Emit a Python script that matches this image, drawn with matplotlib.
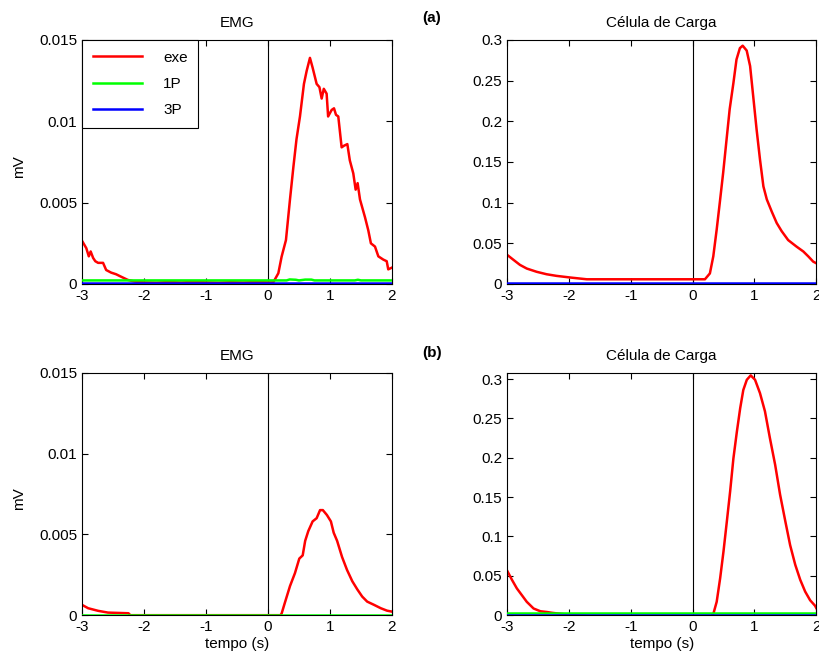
import matplotlib
matplotlib.use("Agg")
import matplotlib.pyplot as plt
from matplotlib.ticker import FuncFormatter

plt.rcParams['font.family'] = ['Liberation Sans', 'DejaVu Sans']
plt.rcParams['font.size'] = 11

# (a) EMG - exe
emg_a_exe_t = [-3.0, -2.93, -2.89, -2.86, -2.82, -2.785, -2.74, -2.66, -2.61, -2.53, -2.45,
               -2.37, -2.26, -2.15, -2.0, -1.8, -1.6, -1.4, -1.2, -1.0, -0.8, -0.6, -0.4,
               -0.2, 0.0, 0.085, 0.167, 0.22, 0.29, 0.355, 0.41, 0.46, 0.516, 0.58, 0.624,
               0.677, 0.72, 0.785, 0.83, 0.866, 0.90, 0.946, 0.97, 1.027, 1.065, 1.097,
               1.134, 1.188, 1.226, 1.28, 1.32, 1.376, 1.414, 1.446, 1.484, 1.565, 1.618,
               1.66, 1.726, 1.78, 1.86, 1.915, 1.94, 1.995]
emg_a_exe = [0.00266, 0.0022, 0.0017, 0.0020, 0.0016, 0.0014, 0.0013, 0.0013, 0.00086,
             0.0007, 0.0006, 0.00045, 0.00025, 0.00015, 0.0001, 0.00008, 0.00012, 0.00009,
             0.00013, 0.00010, 0.00008, 0.00011, 0.00009, 0.00012, 0.00010, 0.0001,
             0.00066, 0.00168, 0.0027, 0.0052, 0.0072, 0.0089, 0.0103, 0.0123, 0.0131,
             0.0139, 0.0133, 0.0123, 0.0121, 0.0114, 0.0120, 0.0117, 0.0103, 0.0107,
             0.0108, 0.0104, 0.0103, 0.0084, 0.0085, 0.0086, 0.0076, 0.0068, 0.0058,
             0.0062, 0.0052, 0.0041, 0.0033, 0.0025, 0.0023, 0.0017, 0.0015, 0.0014,
             0.0009, 0.0010]
emg_a_1p_t = [-3.0, 0.0, 0.3, 0.35, 0.45, 0.5, 0.6, 0.7, 0.75, 1.4, 1.45, 1.5, 2.0]
emg_a_1p = [0.00022, 0.00022, 0.00022, 0.00028, 0.00026, 0.00022, 0.00027, 0.00027,
            0.00022, 0.00022, 0.00026, 0.00022, 0.00022]
emg_a_3p_t = [-3.0, 2.0]
emg_a_3p = [0.00007, 0.00007]

# (a) Célula de Carga
cel_a_exe_t = [-3.0, -2.9, -2.79, -2.68, -2.52, -2.36, -2.2, -1.98, -1.71, 0.0, 0.2, 0.28,
               0.335, 0.39, 0.44, 0.495, 0.55, 0.60, 0.66, 0.71, 0.765, 0.81, 0.875, 0.93,
               0.98, 1.035, 1.09, 1.145, 1.20, 1.28, 1.36, 1.44, 1.545, 1.68, 1.79, 1.87,
               1.95, 2.0]
cel_a_exe = [0.036, 0.030, 0.0235, 0.019, 0.015, 0.012, 0.010, 0.008, 0.0058, 0.0058,
             0.0058, 0.013, 0.034, 0.067, 0.10, 0.137, 0.178, 0.215, 0.247, 0.276, 0.290,
             0.293, 0.287, 0.268, 0.231, 0.190, 0.153, 0.120, 0.104, 0.089, 0.075, 0.065,
             0.054, 0.046, 0.040, 0.034, 0.0275, 0.0255]
cel_a_1p_t = [-3.0, 2.0]
cel_a_1p = [0.0, 0.0]
cel_a_3p_t = [-3.0, 2.0]
cel_a_3p = [0.001, 0.001]

# (b) EMG
emg_b_exe_t = [-3.0, -2.9, -2.74, -2.58, -2.25, -2.22, 0.2, 0.22, 0.27, 0.355, 0.435, 0.505,
               0.56, 0.60, 0.65, 0.72, 0.785, 0.84, 0.885, 0.95, 1.015, 1.06, 1.115,
               1.195, 1.275, 1.36, 1.44, 1.52, 1.60, 1.71, 1.82, 1.92, 2.0]
emg_b_exe = [0.00064, 0.00043, 0.00027, 0.00016, 0.00012, 0.0, 0.0, 0.0001, 0.00074, 0.0018,
             0.0026, 0.0035, 0.0037, 0.0046, 0.0052, 0.0058, 0.0060, 0.0065, 0.0065,
             0.0062, 0.0058, 0.0051, 0.0046, 0.0036, 0.0028, 0.0021, 0.0016, 0.00115,
             0.00084, 0.00064, 0.00043, 0.00028, 0.00022]
emg_b_1p_t = [-3.0, 2.0]
emg_b_1p = [0.00004, 0.00004]
emg_b_3p_t = [-3.0, 2.0]
emg_b_3p = [-0.00003, -0.00003]

# (b) Célula de Carga
cel_b_exe_t = [-3.0, -2.92, -2.84, -2.76, -2.68, -2.57, -2.46, -2.35, -2.27, -2.0, -1.5,
               0.3, 0.337, 0.39, 0.446, 0.50, 0.554, 0.607, 0.66, 0.716, 0.77, 0.82, 0.877,
               0.94, 1.01, 1.09, 1.17, 1.25, 1.335, 1.415, 1.50, 1.577, 1.66, 1.74, 1.82,
               1.90, 1.98, 2.0]
cel_b_exe = [0.057, 0.045, 0.034, 0.0255, 0.017, 0.0085, 0.005, 0.004, 0.003, 0.0005,
             -0.002, -0.002, 0.002, 0.017, 0.047, 0.081, 0.119, 0.157, 0.199, 0.233, 0.263,
             0.286, 0.299, 0.3046, 0.299, 0.282, 0.259, 0.225, 0.191, 0.153, 0.119, 0.089,
             0.064, 0.045, 0.030, 0.019, 0.012, 0.009]
cel_b_1p_t = [-3.0, 2.0]
cel_b_1p = [0.0025, 0.0025]
cel_b_3p_t = [-3.0, 2.0]
cel_b_3p = [0.0, 0.0]

panels = [
    ("EMG", [0.1001, 0.5697, 0.3785, 0.3697], 0.015, [0, 0.005, 0.01, 0.015],
     (emg_a_exe_t, emg_a_exe), (emg_a_1p_t, emg_a_1p), (emg_a_3p_t, emg_a_3p)),
    ("Célula de Carga", [0.619, 0.5697, 0.3777, 0.3697], 0.30,
     [0, 0.05, 0.1, 0.15, 0.2, 0.25, 0.3],
     (cel_a_exe_t, cel_a_exe), (cel_a_1p_t, cel_a_1p), (cel_a_3p_t, cel_a_3p)),
    ("EMG", [0.1001, 0.0679, 0.3785, 0.3674], 0.015, [0, 0.005, 0.01, 0.015],
     (emg_b_exe_t, emg_b_exe), (emg_b_1p_t, emg_b_1p), (emg_b_3p_t, emg_b_3p)),
    ("Célula de Carga", [0.619, 0.0679, 0.3777, 0.3674], 0.308,
     [0, 0.05, 0.1, 0.15, 0.2, 0.25, 0.3],
     (cel_b_exe_t, cel_b_exe), (cel_b_1p_t, cel_b_1p), (cel_b_3p_t, cel_b_3p)),
]

xticks = [-3, -2, -1, 0, 1, 2]
fmt = FuncFormatter(lambda v, p: "%g" % v)

fig = plt.figure(figsize=(8.19, 6.6), dpi=100)
axes = []
for i, (title, rect, ytop, yticks, exe, p1, p3) in enumerate(panels):
    ax = fig.add_axes(rect)
    ax.axvline(0, color='black', linewidth=0.8, zorder=1)
    ax.plot(exe[0], exe[1], color='#ff0000', linewidth=1.8, label='exe', zorder=2)
    ax.plot(p1[0], p1[1], color='#00ff00', linewidth=1.8, label='1P', zorder=3)
    ax.plot(p3[0], p3[1], color='#0000ff', linewidth=1.8, label='3P', zorder=4)
    ax.set_xlim(-3, 2)
    ax.set_ylim(0, ytop)
    ax.set_xticks(xticks)
    ax.set_yticks(yticks)
    ax.xaxis.set_major_formatter(fmt)
    ax.yaxis.set_major_formatter(fmt)
    ax.tick_params(direction='in', top=True, right=True, length=4, labelsize=11)
    for s in ax.spines.values():
        s.set_linewidth(0.8)
    ax.set_title(title, fontsize=11, pad=9)
    if i % 2 == 0:
        ax.set_ylabel("mV", fontsize=11)
        ax.yaxis.set_label_coords(-0.18, 0.48)
    if i >= 2:
        ax.set_xlabel("tempo (s)", fontsize=11, labelpad=2)
    axes.append(ax)

leg = axes[0].legend(loc='upper left', borderaxespad=0, fancybox=False,
                     edgecolor='black', framealpha=1, handlelength=3.2,
                     labelspacing=0.8, borderpad=0.7, handletextpad=1.4,
                     fontsize=11)
leg.get_frame().set_linewidth(0.8)

fig.text(432 / 819, 1 - 18 / 660, "(a)", fontsize=11, fontweight='bold',
         ha='center', va='center')
fig.text(432 / 819, 1 - 353 / 660, "(b)", fontsize=11, fontweight='bold',
         ha='center', va='center')

fig.savefig("out.png", dpi=100)
